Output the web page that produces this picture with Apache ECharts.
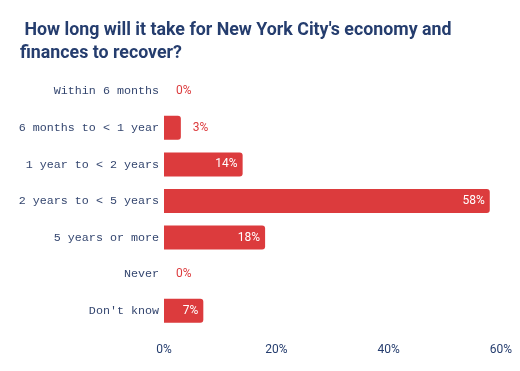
<!DOCTYPE html>
<html><head><meta charset="utf-8">
<script src="https://cdn.jsdelivr.net/npm/echarts@6/dist/echarts.min.js"></script>
<style>html,body{margin:0;padding:0;background:#fff}#c{width:520px;height:371px}</style>
</head><body><div id="c"></div>
<script>
const categories = ["Within 6 months", "6 months to < 1 year", "1 year to < 2 years", "2 years to < 5 years", "5 years or more", "Never", "Don't know"];
const values = [0, 3, 14, 58, 18, 0, 7];
const xTicks = [0, 20, 40, 60];
const titleText = " How long will it take for New York City's economy and\nfinances to recover?";

const red = '#dc3b3d';
const navy = '#253d6e';
const chart = echarts.init(document.getElementById('c'));
chart.setOption({
  animation: false,
  title: {
    text: titleText, left: 15, top: 14,
    textStyle: { fontFamily: 'Roboto', fontWeight: 'bold', fontSize: 17.8, color: navy, lineHeight: 23 }
  },
  grid: { left: 164, right: 19, top: 73, bottom: 42, containLabel: false },
  xAxis: {
    type: 'value', min: 0, max: 60, interval: 20,
    axisLine: { show: false }, axisTick: { show: false }, splitLine: { show: false },
    axisLabel: { formatter: v => xTicks.includes(v) ? v + '%' : '', fontFamily: 'Roboto', fontSize: 12, color: navy, margin: 15 }
  },
  yAxis: {
    type: 'category', data: categories, inverse: true,
    axisLine: { show: false }, axisTick: { show: false },
    axisLabel: { fontFamily: 'Liberation Mono', fontSize: 11.7, color: '#34466f', margin: 5 }
  },
  series: [{
    type: 'bar', barWidth: 24,
    data: values.map(v => ({
      value: v,
      label: v >= 5
        ? { show: true, position: 'insideRight', color: '#fff', distance: 5 }
        : { show: true, position: 'right', color: red, distance: 12 }
    })),
    itemStyle: { color: red, borderRadius: [0, 3, 3, 0] },
    label: { formatter: p => p.value + '%', fontFamily: 'Roboto', fontSize: 12 }
  }]
});
</script></body></html>
